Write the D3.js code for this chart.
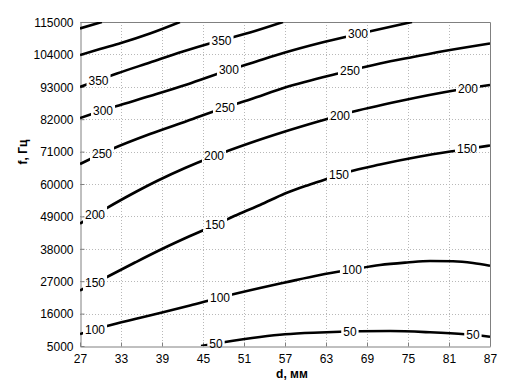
<!DOCTYPE html>
<html>
<head>
<meta charset="utf-8">
<script src="https://cdn.jsdelivr.net/npm/d3@7"></script>
<style>
  body { margin: 0; background: #fff; }
  text { font-family: Arial, "Liberation Sans", sans-serif; }
</style>
</head>
<body>
<div id="chart"></div>
<script>
// axis ticks
var dTicks = [27, 33, 39, 45, 51, 57, 63, 69, 75, 81, 87];
var fTicks = [5000, 16000, 27000, 38000, 49000, 60000, 71000, 82000, 93000, 104000, 115000];

// contour lines, [d, f]
var c50 = [[44.71, 5000], [47.78, 6188], [53.34, 8056], [57, 8972], [62.12, 9583], [67.98, 9991],
	[72.37, 10093], [78.22, 9651], [83.34, 8972], [87, 8157]];
var c100 = [[27, 9074], [30.95, 11790], [35.05, 14167], [39, 16373], [43.1, 18750], [47.49, 21466],
	[53.34, 24691], [57, 26558], [62.12, 29105], [66.8, 30972], [70.9, 32500], [74.85, 33348],
	[78.22, 33858], [81.59, 33756], [84.51, 33179], [87, 32262]];
var c150 = [[27, 23842], [30.95, 28426], [35.05, 33348], [39.15, 38101], [43.1, 42345], [46.76, 46080],
	[50.41, 49984], [53.34, 52870], [57, 56774], [60.66, 59830], [63.29, 61866], [66.22, 64073],
	[70.9, 66619], [76.76, 69336], [82.17, 71373], [87, 73070]];
var c200 = [[27, 46589], [30.66, 51512], [34.32, 56265], [38.41, 61187], [42.37, 65432], [46.46, 69336],
	[51.88, 73920], [57, 77824], [62.12, 81389], [66.22, 84105], [73.83, 88179], [82.17, 91914], [87, 93612]];
var c250 = [[27, 66789], [31.68, 71883], [37.24, 76975], [42.66, 81389], [48.22, 85971], [51.88, 88687],
	[57, 92761], [65.05, 97685], [70.9, 100910], [75.73, 103117], [81.15, 105493], [87, 107700]];
var c300 = [[27, 82406], [32.12, 86310], [37.24, 89876], [42.66, 93781], [48.8, 98704], [51.88, 100910],
	[57, 104643], [62.12, 107868], [67.68, 110924], [75.59, 115000]];
var c350 = [[27, 92931], [32.41, 97514], [37.24, 101250], [42.07, 104985], [46.46, 108040],
	[51.88, 111434], [56.71, 115000]];
var c400 = [[27, 103800], [29.93, 105832], [33, 107870], [37.24, 111094], [41.63, 115000]];
var c450 = [[27, 112800], [30.2, 115000]];

// where the inline labels sit (d value)
var lab50 = [46.9, 66.5, 84.5];
var lab100 = [29.2, 47.49, 66.8];
var lab150 = [29.2, 46.76, 64.9, 83.63];
var lab200 = [29.2, 46.61, 65.05, 83.78];
var lab250 = [30.22, 48.22, 66.51];
var lab300 = [30.37, 48.8, 67.68];
var lab350 = [29.71, 47.71];

var contours = [
	{ level: 50, pts: c50, labels: lab50 },
	{ level: 100, pts: c100, labels: lab100 },
	{ level: 150, pts: c150, labels: lab150 },
	{ level: 200, pts: c200, labels: lab200 },
	{ level: 250, pts: c250, labels: lab250 },
	{ level: 300, pts: c300, labels: lab300 },
	{ level: 350, pts: c350, labels: lab350 },
	{ level: 400, pts: c400, labels: [] },
	{ level: 450, pts: c450, labels: [] }
];

var W = 508, H = 381;
var m = { left: 80, right: 18, top: 22, bottom: 35 };

var x = d3.scaleLinear().domain([27, 87]).range([m.left, W - m.right]);
var y = d3.scaleLinear().domain([5000, 115000]).range([H - m.bottom, m.top]);

var svg = d3.select("#chart").append("svg")
	.attr("width", W)
	.attr("height", H);

// grid
var grid = svg.append("g")
	.attr("stroke", "#b8b8b8")
	.attr("stroke-width", 1)
	.attr("stroke-dasharray", "1,2");
grid.selectAll(".gx").data(dTicks.slice(1, -1)).enter().append("line")
	.attr("x1", function(d) { return Math.round(x(d)) + 0.5; })
	.attr("x2", function(d) { return Math.round(x(d)) + 0.5; })
	.attr("y1", m.top).attr("y2", H - m.bottom);
grid.selectAll(".gy").data(fTicks.slice(1, -1)).enter().append("line")
	.attr("y1", function(d) { return Math.round(y(d)) + 0.5; })
	.attr("y2", function(d) { return Math.round(y(d)) + 0.5; })
	.attr("x1", m.left).attr("x2", W - m.right);

// axes
var xAxis = d3.axisBottom(x).tickValues(dTicks).tickSizeInner(-4).tickSizeOuter(0).tickPadding(8);
var yAxis = d3.axisLeft(y).tickValues(fTicks).tickFormat(d3.format("d")).tickSizeInner(-4).tickSizeOuter(0).tickPadding(7);

var gx = svg.append("g")
	.attr("transform", "translate(0," + (H - m.bottom + 0.5) + ")")
	.call(xAxis);
var gy = svg.append("g")
	.attr("transform", "translate(" + (m.left + 0.5) + ",0)")
	.call(yAxis);

[gx, gy].forEach(function(g) {
	g.selectAll("line, path").attr("stroke", "#808080");
	g.selectAll("text").attr("fill", "#000").style("font-size", "12px");
});
gy.selectAll("text").attr("dy", "0.36em");

// top and right edges of the box
svg.append("path")
	.attr("d", "M" + (m.left + 0.5) + "," + (m.top + 0.5) + "H" + (W - m.right + 0.5) + "V" + (H - m.bottom + 0.5))
	.attr("fill", "none")
	.attr("stroke", "#808080");

// axis titles
svg.append("text")
	.attr("x", 292)
	.attr("y", 378)
	.attr("text-anchor", "middle")
	.style("font-size", "12px")
	.style("font-weight", "bold")
	.text("d, мм");
svg.append("text")
	.attr("transform", "translate(27,152) rotate(-90)")
	.attr("text-anchor", "middle")
	.style("font-size", "12px")
	.style("font-weight", "bold")
	.text("f, Гц");

// f on a contour at a given d (linear between read points)
function fAt(pts, d) {
	for (var i = 1; i < pts.length; i++) {
		if (d <= pts[i][0]) {
			var t = (d - pts[i - 1][0]) / (pts[i][0] - pts[i - 1][0]);
			return pts[i - 1][1] + t * (pts[i][1] - pts[i - 1][1]);
		}
	}
	return pts[pts.length - 1][1];
}

var labelData = [];
contours.forEach(function(c) {
	c.labels.forEach(function(d) {
		labelData.push({ level: c.level, d: d, f: fAt(c.pts, d) });
	});
});

// mask that cuts the lines where labels go
var defs = svg.append("defs");
var clip = defs.append("clipPath").attr("id", "plotclip");
clip.append("rect")
	.attr("x", m.left).attr("y", m.top)
	.attr("width", W - m.left - m.right).attr("height", H - m.top - m.bottom);

var mask = defs.append("mask").attr("id", "labelmask")
	.attr("maskUnits", "userSpaceOnUse")
	.attr("x", 0).attr("y", 0).attr("width", W).attr("height", H);
mask.append("rect").attr("width", W).attr("height", H).attr("fill", "#fff");

var labels = svg.append("g");
labels.selectAll("text").data(labelData).enter().append("text")
	.attr("x", function(d) { return x(d.d); })
	.attr("y", function(d) { return y(d.f); })
	.attr("dy", "0.36em")
	.attr("text-anchor", "middle")
	.style("font-size", "12px")
	.attr("fill", "#000")
	.text(function(d) { return d.level; })
	.each(function(d) { d.w = this.getComputedTextLength(); });

mask.selectAll(".hole").data(labelData).enter().append("rect")
	.attr("x", function(d) { return x(d.d) - d.w / 2 - 2; })
	.attr("y", function(d) { return y(d.f) - 12; })
	.attr("width", function(d) { return d.w + 4; })
	.attr("height", 24)
	.attr("fill", "#000");

var line = d3.line()
	.x(function(p) { return x(p[0]); })
	.y(function(p) { return y(p[1]); })
	.curve(d3.curveMonotoneX);

svg.append("g")
	.attr("clip-path", "url(#plotclip)")
	.append("g")
	.attr("mask", "url(#labelmask)")
	.selectAll("path").data(contours).enter().append("path")
	.attr("d", function(c) { return line(c.pts); })
	.attr("fill", "none")
	.attr("stroke", "#000")
	.attr("stroke-width", 2.6)
	.attr("stroke-linecap", "butt");

labels.raise();
</script>
</body>
</html>
